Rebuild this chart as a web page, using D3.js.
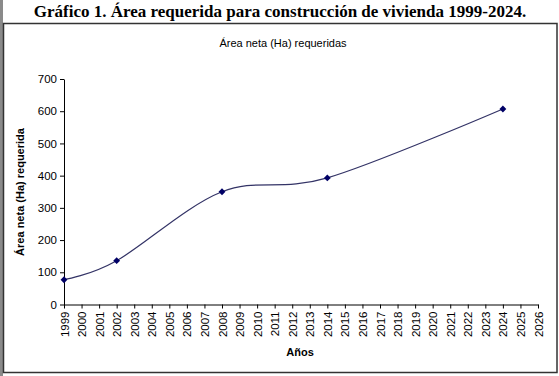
<!DOCTYPE html>
<html>
<head>
<meta charset="utf-8">
<script src="https://cdn.jsdelivr.net/npm/d3@7"></script>
<style>
  body { margin: 0; background: #fff; }
  text { font-family: Arial, "Liberation Sans", sans-serif; }
</style>
</head>
<body>
<div id="chart"></div>
<script>
// data
const years  = [1999, 2002, 2008, 2014, 2024];
const areas  = [77, 136, 350, 393, 607];
const yTicks = [0, 100, 200, 300, 400, 500, 600, 700];
const xTicks = d3.range(1999, 2027);

const W = 559, H = 376;
const margin = { top: 79, right: 21, bottom: 71.5, left: 64 };

const svg = d3.select("#chart").append("svg")
  .attr("width", W)
  .attr("height", H);

// scan edge on the left
svg.append("rect")
  .attr("x", 0).attr("y", 0)
  .attr("width", 3).attr("height", H)
  .attr("fill", "#8a8a8a");

// chart frame
svg.append("rect")
  .attr("x", 3.5).attr("y", 23.5)
  .attr("width", 553.5).attr("height", 349)
  .attr("fill", "none")
  .attr("stroke", "#333")
  .attr("stroke-width", 1.5);

svg.append("text")
  .attr("x", 280).attr("y", 17)
  .attr("text-anchor", "middle")
  .style("font-family", "'Liberation Serif', 'Times New Roman', serif")
  .style("font-weight", "bold")
  .style("font-size", "17px")
  .text("Gráfico 1. Área requerida para construcción de vivienda 1999-2024.");

svg.append("text")
  .attr("x", 283).attr("y", 47)
  .attr("text-anchor", "middle")
  .style("font-size", "11px")
  .text("Área neta (Ha) requeridas");

const x = d3.scaleLinear()
  .domain([1999, 2026])
  .range([margin.left, W - margin.right]);

const y = d3.scaleLinear()
  .domain([0, 700])
  .range([H - margin.bottom, margin.top]);

svg.append("g")
  .attr("transform", `translate(0,${H - margin.bottom})`)
  .call(d3.axisBottom(x)
    .tickValues(xTicks)
    .tickSize(4)
    .tickSizeOuter(0)
    .tickFormat(d3.format("d")))
  .call(g => g.select(".domain").attr("stroke", "#000"))
  .call(g => g.selectAll(".tick text")
    .attr("transform", "rotate(-90)")
    .attr("text-anchor", "end")
    .attr("x", -7)
    .attr("y", 0)
    .attr("dy", "0.35em")
    .style("font-size", "11.5px")
    .attr("fill", "#000"));

svg.append("g")
  .attr("transform", `translate(${margin.left},0)`)
  .call(d3.axisLeft(y)
    .tickValues(yTicks)
    .tickSize(4)
    .tickSizeOuter(0))
  .call(g => g.select(".domain").attr("stroke", "#000"))
  .call(g => g.selectAll(".tick text")
    .attr("x", -7)
    .style("font-size", "11.5px")
    .attr("fill", "#000"));

svg.append("text")
  .attr("transform", "rotate(-90)")
  .attr("x", -192)
  .attr("y", 24)
  .attr("text-anchor", "middle")
  .style("font-size", "11px")
  .style("font-weight", "bold")
  .text("Área neta (Ha) requerida");

svg.append("text")
  .attr("x", 300).attr("y", 356)
  .attr("text-anchor", "middle")
  .style("font-size", "11px")
  .style("font-weight", "bold")
  .text("Años");

const points = years.map((yr, i) => ({ yr, v: areas[i] }));

const line = d3.line()
  .x(d => x(d.yr))
  .y(d => y(d.v))
  .curve(d3.curveCardinal.tension(0));

svg.append("path")
  .datum(points)
  .attr("d", line)
  .attr("fill", "none")
  .attr("stroke", "#333366")
  .attr("stroke-width", 1.2);

svg.selectAll("path.marker")
  .data(points)
  .join("path")
    .attr("class", "marker")
    .attr("transform", d => `translate(${x(d.yr)},${y(d.v)})`)
    .attr("d", d3.symbol(d3.symbolDiamond2, 30))
    .attr("fill", "#000066");
</script>
</body>
</html>
